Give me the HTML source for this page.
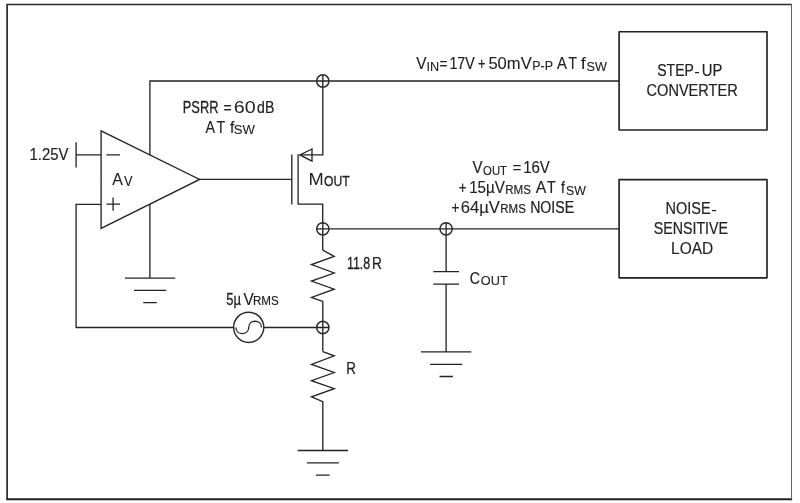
<!DOCTYPE html>
<html><head><meta charset="utf-8">
<style>
html,body{margin:0;padding:0;background:#fff;}
body{width:800px;height:503px;overflow:hidden;}
svg{display:block;}
text{font-family:"Liberation Sans",sans-serif;fill:#222;stroke:#222;stroke-width:0.22;vector-effect:non-scaling-stroke;}
.w{fill:none;stroke:#222;stroke-width:1.32;stroke-linecap:butt;stroke-linejoin:miter;}
.n{fill:#fff;stroke:#2b2b2b;stroke-width:1.5;}
</style></head><body>
<svg width="800" height="503" viewBox="0 0 800 503">
<rect width="800" height="503" fill="#fff"/>
<!-- outer border -->
<path d="M7.1 499 V4.5 H791.8" fill="none" stroke="#2b2b2b" stroke-width="1.7"/>
<path d="M6.25 499.2 H792.1" fill="none" stroke="#222" stroke-width="2"/>
<path d="M791.5 4 V499" fill="none" stroke="#666" stroke-width="1"/>
<!-- boxes -->
<rect class="w" x="619.1" y="31.7" width="147.9" height="98.3" style="stroke-width:1.65;stroke-linejoin:round"/>
<rect class="w" x="619.1" y="179.6" width="147.9" height="98.2" style="stroke-width:1.65;stroke-linejoin:round"/>
<!-- wires -->
<path class="w" d="M619.1 81 H149.9 V278.1"/>
<path class="w" d="M322.8 81 V154.9 H300.5"/>
<path class="w" d="M312 149 V161.1 L299.8 154.9 Z"/>
<path class="w" d="M298.1 154.2 V204.2 H322.7 V250.2"/>
<path class="w" d="M291.8 154.6 V204.6" />
<path class="w" d="M199 179.45 H291.8"/>
<path class="w" d="M619.1 228.8 H322.8"/>
<path class="w" d="M446.1 228.8 V271.7 M433.3 271.7 H459 M433.3 284.2 H459 M446.1 284.2 V351.9"/>
<path class="w" d="M420.9 351.9 H471.3 M430.2 364.4 H462.2 M439.5 376.5 H452.9"/>
<!-- resistor 1 -->
<path class="w" d="M322.8 250.2 L334.2 256.4 L311.5 264.6 L334.2 273 L311.5 281.1 L334.2 289.2 L311.5 297.4 L322.8 301.5 V351.6"/>
<!-- resistor 2 -->
<path class="w" d="M322.8 351.6 L334.2 355.8 L311.5 364.4 L334.2 372.5 L311.5 380.7 L334.2 388.7 L311.5 396.8 L322.8 401.6 V450.5"/>
<path class="w" d="M297.7 450.5 H348.1 M306.9 462.8 H338.9 M316 475.2 H329.5"/>
<!-- feedback -->
<path class="w" d="M322.8 327.5 H76.1 V204.3 H101"/>
<!-- source -->
<circle class="n" cx="248.7" cy="327.3" r="15.1" style="stroke-width:1.45"/>
<path class="w" d="M235.9 327.4 C235.9 335.6 248.7 335.6 248.7 327.4 C248.7 319.2 261.5 319.2 261.5 327.4"/>
<!-- opamp -->
<path class="w" d="M101.1 130.8 V228.4 L199.6 179.45 Z" style="fill:#fff"/>
<path class="w" d="M76.1 142.3 V167.5 M76.1 154.9 H101"/>
<path class="w" d="M106.4 154.9 H120 M106.4 204.1 H120 M113.1 197.4 V210.7"/>
<path class="w" d="M124.9 278.1 H175.1 M134.1 290.4 H166.2 M143.3 302.7 H156.8"/>
<!-- nodes -->
<g>
<circle class="n" cx="322.8" cy="81" r="6.15"/><path class="w" d="M316.8 81 H328.8 M322.8 75 V87"/>
<circle class="n" cx="322.8" cy="228.8" r="6.15"/><path class="w" d="M316.8 228.8 H328.8 M322.8 222.8 V234.8"/>
<circle class="n" cx="446.1" cy="228.8" r="6.15"/><path class="w" d="M440.1 228.8 H452.1 M446.1 222.8 V234.8"/>
<circle class="n" cx="322.8" cy="327.5" r="6.15"/><path class="w" d="M316.8 327.5 H328.8 M322.8 321.5 V333.5"/>
</g>
<!-- text -->
<g style="opacity:0.999">
<text transform="translate(29.55,160.10) scale(0.943,1)" font-size="15.8" style="stroke:#222;stroke-width:0.16">1.25V</text>
<text transform="translate(112.17,184.70) scale(1.008,1)" font-size="15.8" style="stroke:#222;stroke-width:0.11">A</text>
<text transform="translate(124.00,185.90) scale(0.924,1)" font-size="13.9" style="stroke:#222;stroke-width:0.12">V</text>
<text transform="translate(182.81,113.00) scale(0.812,1)" font-size="15.8" style="stroke:#222;stroke-width:0.26">PSRR</text>
<text transform="translate(223.45,113.00) scale(0.885,1)" font-size="15.8" style="stroke:#222;stroke-width:0.12">=</text>
<text transform="translate(233.79,113.00) scale(1.247,1)" font-size="15.8" style="stroke:#222;stroke-width:0.00">60</text>
<text transform="translate(257.08,113.00) scale(0.891,1)" font-size="15.8" style="stroke:#222;stroke-width:0.20">dB</text>
<text transform="translate(205.46,132.60) scale(0.909,1)" font-size="15.8" style="stroke:#222;stroke-width:0.18">A</text>
<text transform="translate(216.58,132.60) scale(0.891,1)" font-size="15.8" style="stroke:#222;stroke-width:0.20">T</text>
<text transform="translate(229.88,132.60) scale(0.987,1)" font-size="15.8" style="stroke:#222;stroke-width:0.13">f</text>
<text transform="translate(233.77,134.30) scale(0.956,1)" font-size="13.7" style="stroke:#222;stroke-width:0.11">SW</text>
<text transform="translate(308.54,184.80) scale(1.158,1)" font-size="15.8" style="stroke:#222;stroke-width:0.00">M</text>
<text transform="translate(324.07,185.80) scale(0.851,1)" font-size="14.3" style="stroke:#222;stroke-width:0.29">OUT</text>
<text transform="translate(416.13,68.80) scale(0.976,1)" font-size="15.8" style="stroke:#222;stroke-width:0.14">V</text>
<text transform="translate(426.40,70.50) scale(0.927,1)" font-size="13.7" style="stroke:#222;stroke-width:0.12">IN</text>
<text transform="translate(439.48,68.80) scale(0.857,1)" font-size="15.8" style="stroke:#222;stroke-width:0.14">=</text>
<text transform="translate(449.43,68.80) scale(0.901,1)" font-size="15.8" style="stroke:#222;stroke-width:0.19">17V</text>
<text transform="translate(478.05,68.80) scale(0.806,1)" font-size="15.8" style="stroke:#222;stroke-width:0.18">+</text>
<text transform="translate(488.39,68.80) scale(1.050,1)" font-size="15.8" style="stroke:#222;stroke-width:0.08">50mV</text>
<text transform="translate(532.22,69.90) scale(1.026,1)" font-size="12.1" style="stroke:#222;stroke-width:0.14">P-P</text>
<text transform="translate(556.95,68.80) scale(0.940,1)" font-size="15.8" style="stroke:#222;stroke-width:0.16">A</text>
<text transform="translate(568.41,68.80) scale(0.862,1)" font-size="15.8" style="stroke:#222;stroke-width:0.22">T</text>
<text transform="translate(580.64,68.80) scale(1.148,1)" font-size="15.8" style="stroke:#222;stroke-width:0.01">f</text>
<text transform="translate(586.49,70.80) scale(0.923,1)" font-size="13.7" style="stroke:#222;stroke-width:0.13">SW</text>
<text transform="translate(472.47,173.30) scale(0.952,1)" font-size="15.8" style="stroke:#222;stroke-width:0.15">V</text>
<text transform="translate(483.12,174.90) scale(0.826,1)" font-size="13.7" style="stroke:#222;stroke-width:0.19">OUT</text>
<text transform="translate(512.55,173.30) scale(0.965,1)" font-size="15.8" style="stroke:#222;stroke-width:0.06">=</text>
<text transform="translate(523.17,173.30) scale(0.951,1)" font-size="15.8" style="stroke:#222;stroke-width:0.15">16V</text>
<text transform="translate(458.80,193.20) scale(0.845,1)" font-size="15.8" style="stroke:#222;stroke-width:0.15">+</text>
<text transform="translate(469.17,193.20) scale(0.960,1)" font-size="15.8" style="stroke:#222;stroke-width:0.15">15µV</text>
<text transform="translate(505.29,193.60) scale(0.939,1)" font-size="12.3" style="stroke:#222;stroke-width:0.18">RMS</text>
<text transform="translate(535.63,193.00) scale(1.004,1)" font-size="15.8" style="stroke:#222;stroke-width:0.12">A</text>
<text transform="translate(547.00,193.00) scale(0.895,1)" font-size="15.8" style="stroke:#222;stroke-width:0.20">T</text>
<text transform="translate(561.00,193.00) scale(0.881,1)" font-size="15.8" style="stroke:#222;stroke-width:0.21">f</text>
<text transform="translate(565.95,194.70) scale(0.899,1)" font-size="13.7" style="stroke:#222;stroke-width:0.14">SW</text>
<text transform="translate(451.48,212.50) scale(0.857,1)" font-size="15.8" style="stroke:#222;stroke-width:0.14">+</text>
<text transform="translate(460.67,212.50) scale(1.054,1)" font-size="15.8" style="stroke:#222;stroke-width:0.08">64µV</text>
<text transform="translate(500.29,212.80) scale(0.939,1)" font-size="12.3" style="stroke:#222;stroke-width:0.18">RMS</text>
<text transform="translate(530.16,212.50) scale(0.894,1)" font-size="15.8" style="stroke:#222;stroke-width:0.20">NOISE</text>
<text transform="translate(657.26,76.00) scale(0.888,1)" font-size="15.8" style="stroke:#222;stroke-width:0.20">STEP</text>
<text transform="translate(694.27,76.80) scale(1.038,1)" font-size="15.8" style="stroke:#222;stroke-width:0.01">-</text>
<text transform="translate(701.67,76.00) scale(0.941,1)" font-size="15.8" style="stroke:#222;stroke-width:0.16">UP</text>
<text transform="translate(646.56,95.90) scale(0.922,1)" font-size="15.8" style="stroke:#222;stroke-width:0.18">CONVERTER</text>
<text transform="translate(665.45,214.30) scale(0.918,1)" font-size="15.8" style="stroke:#222;stroke-width:0.18">NOISE</text>
<text transform="translate(711.26,215.10) scale(1.037,1)" font-size="15.8" style="stroke:#222;stroke-width:0.01">-</text>
<text transform="translate(653.74,233.80) scale(0.901,1)" font-size="15.8" style="stroke:#222;stroke-width:0.19">SENSITIVE</text>
<text transform="translate(671.07,253.60) scale(0.980,1)" font-size="15.8" style="stroke:#222;stroke-width:0.13">LOAD</text>
<text transform="translate(346.96,269.00) scale(0.783,1)" font-size="15.8" style="stroke:#222;stroke-width:0.28">11.8</text>
<text transform="translate(372.12,269.00) scale(0.869,1)" font-size="15.8" style="stroke:#222;stroke-width:0.21">R</text>
<text transform="translate(346.18,374.10) scale(0.843,1)" font-size="15.8" style="stroke:#222;stroke-width:0.23">R</text>
<text transform="translate(226.28,304.70) scale(0.825,1)" font-size="15.8" style="stroke:#222;stroke-width:0.25">5µ</text>
<text transform="translate(243.57,304.70) scale(0.974,1)" font-size="15.8" style="stroke:#222;stroke-width:0.14">V</text>
<text transform="translate(252.92,304.90) scale(0.943,1)" font-size="12.3" style="stroke:#222;stroke-width:0.18">RMS</text>
<text transform="translate(469.72,283.60) scale(0.900,1)" font-size="15.8" style="stroke:#222;stroke-width:0.19">C</text>
<text transform="translate(480.83,284.50) scale(0.929,1)" font-size="13.7" style="stroke:#222;stroke-width:0.12">OUT</text>
</g>
</svg>
</body></html>
